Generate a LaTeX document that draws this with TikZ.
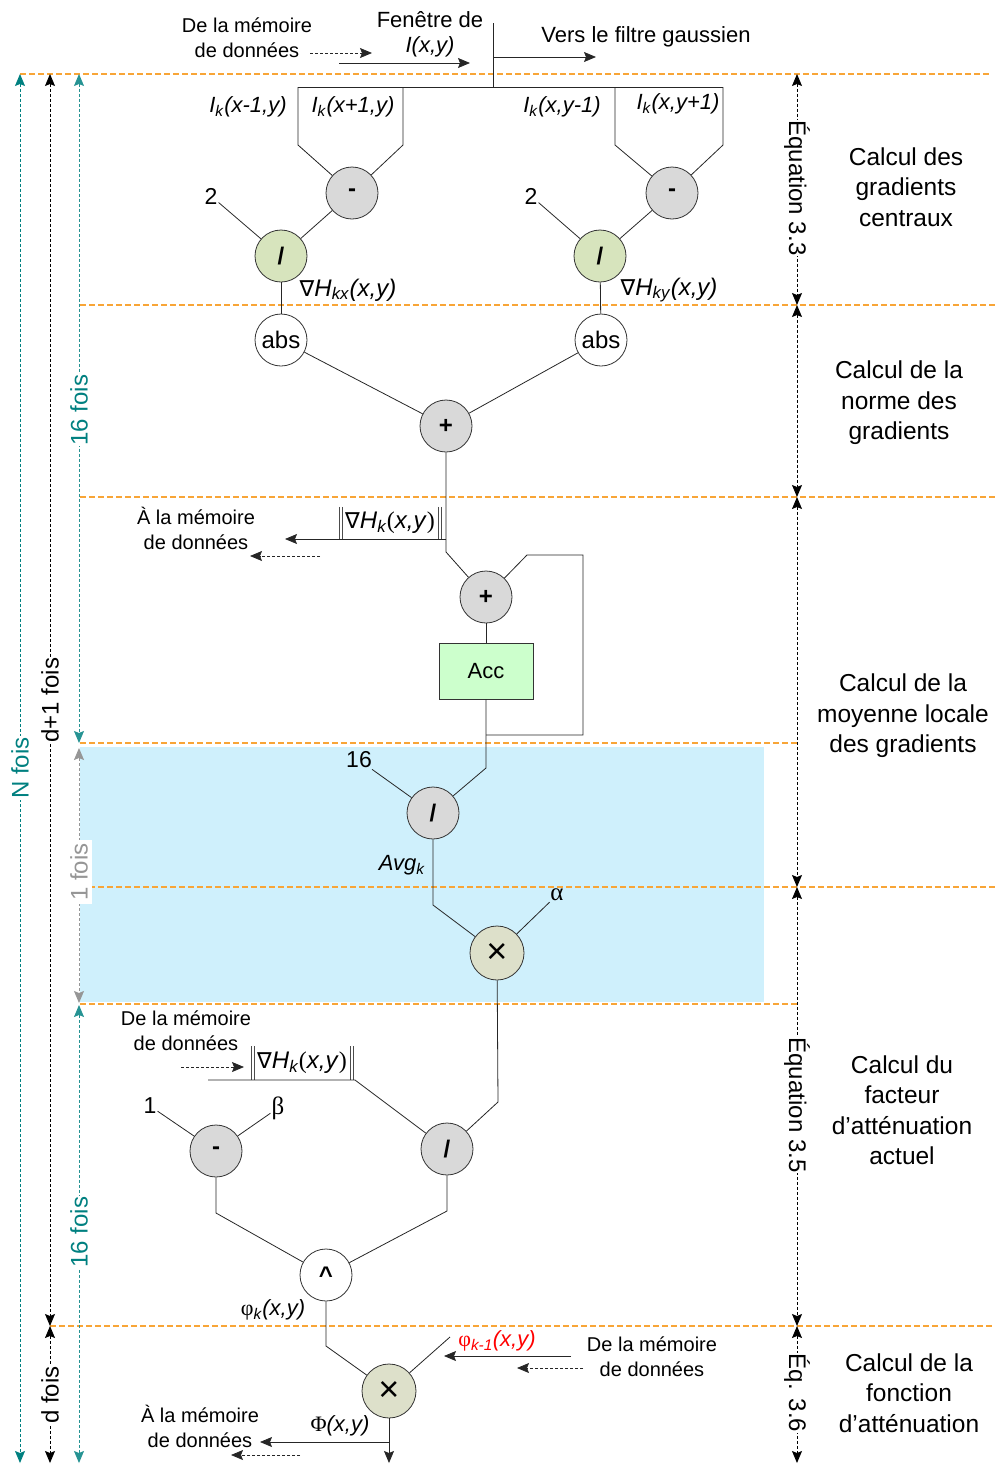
\documentclass[tikz,border=0pt]{standalone}
\usepackage{fontspec}
\setmainfont{Liberation Sans}
\newfontfamily\grk{Liberation Serif}
\newfontfamily\djv{DejaVu Sans}
\usetikzlibrary{arrows.meta}

\definecolor{guidecol}{RGB}{248,165,55}
\definecolor{tealc}{RGB}{0,128,128}
\definecolor{opgray}{RGB}{217,217,217}
\definecolor{opgreen}{RGB}{215,228,189}
\definecolor{opmul}{RGB}{221,224,202}
\definecolor{accgreen}{RGB}{204,255,204}
\definecolor{band}{RGB}{207,240,252}
\definecolor{onceg}{RGB}{150,150,150}

\newcommand{\fsz}[2]{\fontsize{#1}{#2}\selectfont}

\tikzset{
  x=1pt, y=-1pt,
  arr/.style={-{Stealth[length=12pt,width=10pt,inset=2pt]}},
  biarr/.style={{Stealth[length=12pt,width=10pt,inset=2pt]}-{Stealth[length=12pt,width=10pt,inset=2pt]}},
  wire/.style={line width=0.8pt, draw=black!85},
  feed/.style={wire, dash pattern=on 3pt off 2pt},
  op/.style={circle, draw=black!80, line width=0.8pt, minimum size=52pt,
             inner sep=0pt, font=\fsz{24}{24}},
  guide/.style={draw=guidecol, dash pattern=on 6pt off 3pt, line width=1.5pt},
  span/.style={biarr, dash pattern=on 3pt off 2pt, line width=0.9pt},
  lbl/.style={font=\fsz{20}{25}, align=center, inner sep=1pt},
  mid/.style={font=\fsz{22}{28}, align=center, inner sep=1pt},
  sig/.style={font=\fsz{23}{23}, inner sep=1pt},
  stage/.style={font=\fsz{24.5}{30.5}, align=center},
  count/.style={font=\fsz{24}{24}, fill=white, inner sep=1pt},
  bars/.style={line width=0.6pt, draw=black!70},
  mulop/.style={op, fill=opmul, minimum size=54pt, font=\fsz{36}{36}},
}

\begin{document}
\begin{tikzpicture}
\useasboundingbox (0,0) rectangle (995,1465);

% shaded single-pass band
\fill[band] (80,747) rectangle (764,1002);

% stage boundaries
\draw[guide] (20,74) -- (990,74);
\draw[guide] (80,305) -- (995,305);
\draw[guide] (80,497) -- (995,497);
\draw[guide] (80,743) -- (797,743);
\draw[guide] (80,887) -- (995,887);
\draw[guide] (80,1004) -- (797,1004);
\draw[guide] (50,1326) -- (995,1326);

% iteration counts on the left
\coordinate (nTop) at (20,74);   \coordinate (nBot) at (20,1463);
\coordinate (dTop) at (50,74);   \coordinate (dMid) at (50,1326);
\coordinate (dBot) at (50,1463);
\coordinate (aTop) at (79,74);   \coordinate (aBot) at (79,743);
\coordinate (bTop) at (79,748);  \coordinate (bBot) at (79,1003);
\coordinate (cTop) at (79,1005); \coordinate (cBot) at (79,1463);
\draw[span, tealc] (nTop) -- (nBot);
\draw[span, black] (dTop) -- (dMid);
\draw[span, black] (dMid) -- (dBot);
\draw[span, tealc!85] (aTop) -- (aBot);
\draw[span, onceg] (bTop) -- (bBot);
\draw[span, tealc!85] (cTop) -- (cBot);
\node[count, text=tealc, rotate=90] (nf) at (20,768) {N fois};
\node[count, rotate=90] (df1) at (50,700) {d+1 fois};
\node[count, rotate=90] (df) at (50,1395) {d fois};
\node[count, text=tealc, rotate=90] (sf1) at (79,410) {16 fois};
\node[count, text=onceg, rotate=90, inner ysep=4pt, inner xsep=3pt] (of) at (79,872) {1 fois};
\node[count, text=tealc, rotate=90] (sf2) at (79,1232) {16 fois};

% equation spans on the right
\coordinate (e0) at (797,74);  \coordinate (e1) at (797,305);
\coordinate (e2) at (797,497); \coordinate (e3) at (797,887);
\coordinate (e4) at (797,1326); \coordinate (e5) at (797,1463);
\draw[span] (e0) -- (e1);
\draw[span] (e1) -- (e2);
\draw[span] (e2) -- (e3);
\draw[span] (e3) -- (e4);
\draw[span] (e4) -- (e5);
\node[count, rotate=-90] (eq33) at (797,188) {Équation 3.3};
\node[count, rotate=-90] (eq35) at (797,1105) {Équation 3.5};
\node[count, rotate=-90] (eq36) at (797,1393) {Éq. 3.6};

% stage titles
\node[stage] (t1) at (906,187) {Calcul des\\gradients\\centraux};
\node[stage] (t2) at (899,403) {Calcul de la\\norme des\\gradients};
\node[stage] (t3) at (903,716) {Calcul de la\\moyenne locale\\des gradients};
\node[stage] (t4) at (902,1110) {Calcul du\\facteur\\d’atténuation\\actuel};
\node[stage] (t5) at (909,1393) {Calcul de la\\fonction\\d’atténuation};

% input window
\node[lbl] (memIn1) at (247,38) {De la mémoire\\de données};
\node[mid] (win) at (430,20) {Fenêtre de};
\node[mid] (winI) at (430,47) {\textit{I(x,y)}};
\node[mid] (gauss) at (646,37) {Vers le filtre gaussien};
\coordinate (fd1s) at (310,53); \coordinate (fd1e) at (372,53);
\draw[feed, arr] (fd1s) -- (fd1e);
\coordinate (in1s) at (339,63); \coordinate (in1e) at (470,63);
\draw[wire, arr] (in1s) -- (in1e);
\coordinate (busTop) at (493,23); \coordinate (bus) at (493,87);
\coordinate (gOut) at (493,57); \coordinate (gEnd) at (596,57);
\draw[wire] (busTop) -- (bus);
\draw[wire, arr] (gOut) -- (gEnd);
\coordinate (bL) at (298,87); \coordinate (bR) at (723,87);
\draw[wire] (bL) -- (bR);

\node[mid] (ixm) at (248,107) {\textit{I}\textsubscript{\textit{k}}\textit{(x-1,y)}};
\node[mid] (ixp) at (353,107) {\textit{I}\textsubscript{\textit{k}}\textit{(x+1,y)}};
\node[mid] (iym) at (562,107) {\textit{I}\textsubscript{\textit{k}}\textit{(x,y-1)}};
\node[mid] (iyp) at (678,104) {\textit{I}\textsubscript{\textit{k}}\textit{(x,y+1)}};

% central gradients
\node[op, fill=opgray] (m1) at (352,193) {\textbf{-}};
\node[op, fill=opgray] (m2) at (672,193) {\textbf{-}};
\node[op, fill=opgreen] (d1) at (281,256) {\textbf{/}};
\node[op, fill=opgreen] (d2) at (600,256) {\textbf{/}};
\coordinate (p1a) at (298,87);  \coordinate (p1b) at (298,145);
\coordinate (p2a) at (403,87);  \coordinate (p2b) at (403,145);
\coordinate (p3a) at (615,87);  \coordinate (p3b) at (615,145);
\coordinate (p4a) at (723,87);  \coordinate (p4b) at (723,145);
\draw[wire] (p1a) -- (p1b) -- (m1);
\draw[wire] (p2a) -- (p2b) -- (m1);
\draw[wire] (p3a) -- (p3b) -- (m2);
\draw[wire] (p4a) -- (p4b) -- (m2);
\draw[wire] (m1) -- (d1);
\draw[wire] (m2) -- (d2);
\node[sig] (two1) at (211,196) {2};
\node[sig] (two2) at (531,196) {2};
\draw[wire] (two1) -- (d1);
\draw[wire] (two2) -- (d2);
\node[sig, font=\fsz{24}{24}] (gx) at (348,290) {{\djv\fsz{22}{22}∇}\textit{H}\textsubscript{\textit{kx}}\textit{(x,y)}};
\node[sig, font=\fsz{24}{24}] (gy) at (669,290) {{\djv\fsz{22}{22}∇}\textit{H}\textsubscript{\textit{ky}}\textit{(x,y)}};

% gradient norm
\node[op, fill=white] (abs1) at (281,340) {abs};
\node[op, fill=white] (abs2) at (601,340) {abs};
\node[op, fill=opgray] (s1) at (446,426) {\textbf{+}};
\draw[wire] (d1) -- (abs1);
\draw[wire] (d2) -- (abs2);
\draw[wire] (abs1) -- (s1);
\draw[wire] (abs2) -- (s1);

% local mean
\node[op, fill=opgray] (s2) at (486,597) {\textbf{+}};
\coordinate (j0) at (446,539); \coordinate (j1) at (446,552);
\coordinate (out1) at (285,539);
\draw[wire] (s1) -- (j1) -- (s2);
\draw[wire, arr] (j0) -- (out1);
\node[sig, font=\fsz{24}{24}, minimum height=32pt, inner ysep=0pt, inner xsep=3pt]
  (nrm1) at (390,523) {{\djv\fsz{22}{22}∇}\textit{H}\textsubscript{\textit{k}}{\grk(}\textit{x,y}{\grk)}};
\foreach \s in {0,3} {
  \draw[bars] ([xshift=-\s pt]nrm1.north west) -- ([xshift=-\s pt]nrm1.south west);
  \draw[bars] ([xshift=\s pt]nrm1.north east) -- ([xshift=\s pt]nrm1.south east);
}
\coordinate (fd2s) at (320,556); \coordinate (fd2e) at (250,556);
\draw[feed, arr] (fd2s) -- (fd2e);
\node[lbl] (memOut1) at (196,528) {À la mémoire\\de données};

\node[draw=black!80, line width=0.8pt, fill=accgreen, minimum width=94pt,
      minimum height=56pt, font=\fsz{22}{22}] (acc) at (486,671) {Acc};
\coordinate (fb1) at (527,555); \coordinate (fb2) at (583,555);
\coordinate (fb3) at (583,735); \coordinate (fb4) at (486,735);
\draw[wire] (s2) -- (fb1) -- (fb2) -- (fb3) -- (fb4);
\draw[wire] (s2) -- (acc);

\node[op, fill=opgray] (d3) at (433,813) {\textbf{/}};
\coordinate (ac1) at (486,768);
\draw[wire] (acc) -- (ac1) -- (d3);
\node[sig] (n16) at (359,760) {16};
\draw[wire] (n16) -- (d3);
\node[mid] (avg) at (402,865) {\textit{Avg}\textsubscript{\textit{k}}};

\node[mulop] (x1) at (497,953) {×};
\coordinate (av1) at (433,905);
\draw[wire] (d3) -- (av1) -- (x1);
\node[sig, font=\grk\fsz{25}{25}] (alpha) at (557,895) {α};
\draw[wire] (alpha) -- (x1);

% current attenuation factor
\node[op, fill=opgray] (d4) at (447,1149) {\textbf{/}};
\coordinate (xd) at (498,1102);
\draw[wire] (x1) -- (xd) -- (d4);
\node[lbl] (memIn2) at (186,1031) {De la mémoire\\de données};
\coordinate (fd3s) at (181,1067); \coordinate (fd3e) at (244,1067);
\draw[feed, arr] (fd3s) -- (fd3e);
\node[sig, font=\fsz{24}{24}, minimum height=33pt, inner ysep=0pt, inner xsep=3pt]
  (nrm2) at (302,1063) {{\djv\fsz{22}{22}∇}\textit{H}\textsubscript{\textit{k}}{\grk(}\textit{x,y}{\grk)}};
\foreach \s in {0,3} {
  \draw[bars] ([xshift=-\s pt]nrm2.north west) -- ([xshift=-\s pt]nrm2.south west);
  \draw[bars] ([xshift=\s pt]nrm2.north east) -- ([xshift=\s pt]nrm2.south east);
}
\coordinate (nb1) at (208,1080); \coordinate (nb2) at (355,1080);
\draw[wire] (nb1) -- (nb2) -- (d4);

\node[op, fill=opgray] (m3) at (216,1151) {\textbf{-}};
\node[sig] (one) at (150,1106) {1};
\node[sig, font=\grk\fsz{25}{25}] (beta) at (278,1108) {β};
\draw[wire] (one) -- (m3);
\draw[wire] (beta) -- (m3);

\node[op, fill=white] (pw) at (326,1275) {\textbf{\textasciicircum}};
\coordinate (mp) at (216,1213); \coordinate (dp) at (447,1211);
\draw[wire] (m3) -- (mp) -- (pw);
\draw[wire] (d4) -- (dp) -- (pw);
\node[mid] (phik) at (273,1310) {{\grk φ}\textsubscript{\textit{k}}\textit{(x,y)}};

% attenuation function
\node[mulop] (x2) at (389,1391) {×};
\coordinate (pp) at (326,1346);
\draw[wire] (pw) -- (pp) -- (x2);
\node[mid, text=red] (phikm) at (497,1341) {{\grk φ}\textsubscript{\textit{k-1}}\textit{(x,y)}};
\coordinate (pk) at (450,1337);
\draw[wire] (x2) -- (pk);
\coordinate (in2s) at (571,1356); \coordinate (in2e) at (444,1356);
\draw[wire, arr] (in2s) -- (in2e);
\coordinate (fd4s) at (583,1368); \coordinate (fd4e) at (517,1368);
\draw[feed, arr] (fd4s) -- (fd4e);
\node[lbl] (memIn3) at (652,1357) {De la mémoire\\de données};

\coordinate (xo) at (389,1463);
\draw[wire, arr] (x2) -- (xo);
\coordinate (o2s) at (389,1442); \coordinate (o2e) at (260,1442);
\draw[wire, arr] (o2s) -- (o2e);
\coordinate (fd5s) at (300,1455); \coordinate (fd5e) at (231,1455);
\draw[feed, arr] (fd5s) -- (fd5e);
\node[lbl] (memOut2) at (200,1426) {À la mémoire\\de données};
\node[mid] (Phi) at (340,1426) {{\grk Φ}\textit{(x,y)}};
\end{tikzpicture}
\end{document}
